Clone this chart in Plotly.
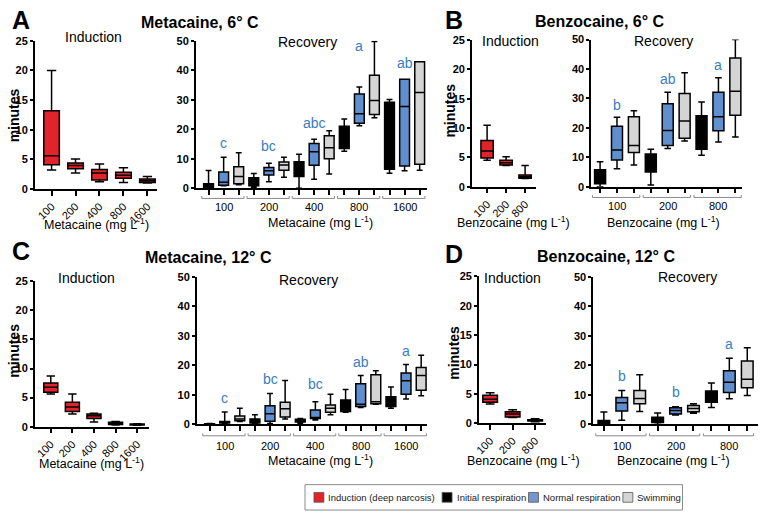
import plotly.graph_objects as go

# ---------------- DATA ----------------
# each box: (lower whisker, Q1, median, Q3, upper whisker) in minutes
conc_meta = ["100", "200", "400", "800", "1600"]
conc_benz = ["100", "200", "800"]

# Panel A: Metacaine, 6 C
A_ind = [(3.2, 4.1, 5.6, 13.2, 20.0), (2.7, 3.4, 3.95, 4.4, 5.05), (1.2, 1.5, 2.7, 3.3, 4.2),
         (1.1, 1.8, 2.3, 2.8, 3.6), (1.0, 1.1, 1.4, 1.7, 2.1)]
A_ind_letters = ["a", "ab", "bc", "c", "c"]
A_ind_letter_y = [20.8, 6.0, 5.2, 5.0, 3.2]
A_rec_init = [(0, 0, 0.8, 1.5, 6.0), (0.3, 0.8, 2.0, 3.5, 5.0), (0, 4.0, 5.0, 9.0, 11.5),
              (12.5, 13.5, 16.0, 21.0, 23.5), (5.1, 6.4, 20.0, 29.2, 30.1)]
A_rec_norm = [(0.8, 1.0, 2.0, 5.5, 10.5), (2.2, 4.5, 5.9, 7.0, 8.5), (3.0, 7.8, 12.4, 15.2, 16.6),
              (21.2, 22.0, 25.3, 32.0, 34.3), (5.9, 7.5, 27.7, 37.0, 37.0)]
A_rec_swim = [(1.2, 1.5, 4.0, 7.3, 12.0), (3.7, 6.1, 7.9, 8.9, 10.5), (4.8, 10.0, 13.7, 17.8, 19.5),
              (23.9, 25.0, 29.8, 38.3, 49.8), (6.1, 8.1, 32.5, 42.9, 42.9)]
A_rec_letters = ["c", "bc", "abc", "a", "ab"]
A_rec_letter_y = [12.0, 10.9, 18.7, 45.0, 39.0]

# Panel B: Benzocaine, 6 C
B_ind = [(4.5, 4.9, 6.1, 7.9, 10.5), (3.6, 3.7, 4.1, 4.5, 5.1), (1.4, 1.45, 1.7, 2.0, 3.6)]
B_ind_letters = ["a", "b", "c"]
B_ind_letter_y = [11.1, 6.3, 4.5]
B_rec_init = [(0, 1.0, 2.0, 5.8, 8.5), (0.6, 5.0, 8.0, 11.1, 12.7), (10.7, 12.7, 18.0, 24.1, 28.8)]
B_rec_norm = [(6.1, 9.1, 12.5, 20.5, 23.6), (13.0, 14.0, 19.1, 28.2, 32.1), (15.2, 19.0, 23.8, 32.1, 37.0)]
B_rec_swim = [(7.4, 11.6, 14.0, 23.8, 25.8), (15.5, 16.5, 22.3, 31.7, 38.7), (16.9, 24.3, 32.4, 43.7, 50.0)]
B_rec_letters = ["b", "ab", "a"]
B_rec_letter_y = [24.3, 33.2, 38.0]

# Panel C: Metacaine, 12 C
C_ind = [(5.6, 5.9, 6.8, 7.5, 8.7), (2.2, 2.6, 3.4, 4.2, 5.6), (0.8, 1.4, 1.9, 2.2, 2.3),
         (0.3, 0.4, 0.6, 0.75, 0.9), (0.25, 0.3, 0.4, 0.45, 0.5)]
C_ind_letters = ["a", "ab", "bc", "cd", "d"]
C_ind_letter_y = [9.9, 6.8, 3.9, 2.0, 2.0]
C_rec_init = [(0, 0, 0.1, 0.2, 0.3), (0, 0.5, 1.0, 1.8, 3.3), (0.3, 0.8, 1.0, 1.7, 2.0),
              (4.1, 4.4, 6.0, 8.3, 11.8), (5.5, 6.1, 8.0, 9.4, 12.7)]
C_rec_norm = [(0.2, 0.5, 0.7, 1.0, 4.2), (0.3, 1.1, 3.6, 6.3, 10.5), (1.5, 2.0, 2.2, 4.9, 7.7),
              (5.7, 6.1, 6.8, 13.8, 16.6), (8.6, 10.2, 14.8, 17.4, 20.3)]
C_rec_swim = [(1.0, 1.2, 1.8, 2.8, 5.5), (1.8, 2.5, 5.3, 7.5, 14.9), (3.3, 4.1, 5.5, 6.6, 10.2),
              (6.8, 7.0, 7.7, 16.8, 18.2), (9.7, 11.6, 16.6, 19.3, 23.4)]
C_rec_letters = ["c", "bc", "bc", "ab", "a"]
C_rec_letter_y = [5.5, 12.1, 10.3, 17.7, 21.5]

# Panel D: Benzocaine, 12 C
D_ind = [(3.3, 3.6, 4.1, 4.8, 5.2), (1.0, 1.1, 1.6, 2.0, 2.3), (0.3, 0.4, 0.5, 0.6, 0.8)]
D_ind_letters = ["a", "b", "c"]
D_ind_letter_y = [5.9, 3.4, 1.7]
D_rec_init = [(0, 0.2, 0.6, 1.3, 4.2), (0, 0.6, 1.5, 2.4, 3.9), (5.7, 7.5, 9.5, 11.3, 14.0)]
D_rec_norm = [(1.4, 4.5, 7.3, 9.1, 11.5), (3.2, 3.5, 4.7, 5.6, 6.0), (8.7, 10.8, 14.3, 18.2, 22.4)]
D_rec_swim = [(4.4, 7.0, 8.8, 11.5, 16.8), (3.8, 4.3, 5.4, 6.4, 7.0), (9.8, 12.4, 15.3, 21.5, 26.0)]
D_rec_letters = ["b", "b", "a"]
D_rec_letter_y = [13.0, 7.7, 24.0]

ind_ticks = [0, 5, 10, 15, 20, 25]
rec_ticks = [0, 10, 20, 30, 40, 50]
legend_labels = ["Induction (deep narcosis)", "Initial respiration", "Normal respiration", "Swimming"]

# ---------------- STYLE / LAYOUT ----------------
FONT = "Liberation Sans, Arial, sans-serif"
W, H = 760, 518
RED, BLACK, BLUE, GREY = "#e2232a", "#000000", "#5f8fcf", "#d4d4d4"
RED_TXT, BLUE_TXT = "#e0262e", "#3a7cc2"


def px(x):
    return x / W


def py(y):
    return 1 - y / H


fig = go.Figure()
annotations = []
shapes = []
layout_axes = {}


def sfx_of(ax):
    return "" if ax == 1 else str(ax)


def box_trace(x, tups, color, ax, lw=1.5):
    s = sfx_of(ax)
    return go.Box(
        x=x,
        lowerfence=[t[0] for t in tups], q1=[t[1] for t in tups], median=[t[2] for t in tups],
        q3=[t[3] for t in tups], upperfence=[t[4] for t in tups],
        fillcolor=color, line=dict(color="black", width=lw), width=0.65, whiskerwidth=0.6,
        boxpoints=False, showlegend=False, hoverinfo="skip", xaxis="x" + s, yaxis="y" + s)


def axis_pair(ax, xdom, ydom, xr, ymax, yticks, xtype):
    s = sfx_of(ax)
    common = dict(showline=True, linecolor="black", linewidth=1.5, ticks="outside",
                  tickwidth=1.5, tickcolor="black", showgrid=False, zeroline=False)
    layout_axes["xaxis" + s] = dict(domain=[px(xdom[0]), px(xdom[1])], range=list(xr),
                                    anchor="y" + s, ticklen=5, **common)
    layout_axes["yaxis" + s] = dict(domain=[py(ydom[0]), py(ydom[1])], range=[0, ymax],
                                    anchor="x" + s, tickvals=yticks, ticklen=3,
                                    tickfont=dict(family=FONT, size=11, color="black", weight="bold"),
                                    **common)
    if xtype == "ind":
        layout_axes["xaxis" + s].update(type="category", tickangle=-45,
                                        tickfont=dict(family=FONT, size=11, color="black"))


def text(x, y, s, size, bold=False, color="black", xref="paper", yref="paper",
         xanchor="center", yanchor="middle", angle=0):
    annotations.append(dict(x=x, y=y, xref=xref, yref=yref, text=s, showarrow=False,
                            xanchor=xanchor, yanchor=yanchor, textangle=angle,
                            font=dict(family=FONT, size=size, color=color,
                                      weight="bold" if bold else "normal")))


def induction(ax, conc, data, letters, ly, xdom, ydom, xr, title, title_xy, sub_xy, ytitle_xy):
    axis_pair(ax, xdom, ydom, xr, 25, ind_ticks, "ind")
    fig.add_trace(box_trace(conc, data, RED, ax))
    s = sfx_of(ax)
    for c, l, yv in zip(conc, letters, ly):
        text(c, yv, l, 14, color=RED_TXT, xref="x" + s, yref="y" + s, yanchor="bottom")
    text(px(sub_xy[0]), py(sub_xy[1]), "Induction", 14)
    text(px(title_xy[0]), py(title_xy[1]), title, 12.5)
    text(px(ytitle_xy[0]), py(ytitle_xy[1]), "minutes", 14, bold=True, angle=-90)


def recovery(ax, conc, init, norm, swim, letters, ly, xdom, ydom, xr, title, title_xy, sub_xy,
             bracket_y, label_y):
    axis_pair(ax, xdom, ydom, xr, 50, rec_ticks, "rec")
    s = sfx_of(ax)
    n = len(conc)
    pos = [[g * 3 + k for g in range(n)] for k in range(3)]
    layout_axes["xaxis" + s].update(tickvals=sorted(p for row in pos for p in row),
                                    showticklabels=False)
    fig.add_trace(box_trace(pos[0], init, BLACK, ax))
    fig.add_trace(box_trace(pos[1], norm, BLUE, ax))
    fig.add_trace(box_trace(pos[2], swim, GREY, ax))
    for g in range(n):
        x0, x1 = g * 3 - 0.45, g * 3 + 2.35
        yl, yt = py(bracket_y), py(bracket_y - 2.5)
        shapes.append(dict(type="path", xref="x" + s, yref="paper",
                           path=f"M {x0},{yt} L {x0},{yl} L {x1},{yl} L {x1},{yt}",
                           line=dict(color="#8a8a8a", width=1)))
        text(g * 3 + 1, py(label_y), conc[g], 11, xref="x" + s)
        text(g * 3 + 1, ly[g], letters[g], 14, color=BLUE_TXT, xref="x" + s, yref="y" + s,
             yanchor="bottom")
    text(px(sub_xy[0]), py(sub_xy[1]), "Recovery", 14)
    text(px(title_xy[0]), py(title_xy[1]), title, 12.5)


meta_t = "Metacaine (mg L<sup>-1</sup>)"
benz_t = "Benzocaine (mg L<sup>-1</sup>)"

# A
induction(1, conc_meta, A_ind, A_ind_letters, A_ind_letter_y, (30, 153), (187.3, 35.7), (-0.7, 4.4),
          meta_t, (92, 223), (89, 32), (9, 112))
recovery(2, conc_meta, A_rec_init, A_rec_norm, A_rec_swim, A_rec_letters, A_rec_letter_y,
         (192, 425), (186.5, 35.7), (-0.85, 14.5), meta_t, (318, 221), (304, 37), 197, 206)
# B
induction(3, conc_benz, B_ind, B_ind_letters, B_ind_letter_y, (470, 535), (185, 35), (-0.8, 2.6),
          benz_t, (512, 221), (509, 36), (447, 107))
recovery(4, conc_benz, B_rec_init, B_rec_norm, B_rec_swim, B_rec_letters, B_rec_letter_y,
         (590, 742), (185, 34.3), (-0.53, 8.4), benz_t, (663, 221), (663, 36), 196, 205)
# C
induction(5, conc_meta, C_ind, C_ind_letters, C_ind_letter_y, (30, 145), (430.7, 281.7), (-0.74, 4.55),
          meta_t, (87, 468), (82, 278), (9, 353))
recovery(6, conc_meta, C_rec_init, C_rec_norm, C_rec_swim, C_rec_letters, C_rec_letter_y,
         (193, 425), (428.3, 277.3), (-0.85, 14.4), meta_t, (318, 465), (306, 280), 440, 450)
# D
induction(7, conc_benz, D_ind, D_ind_letters, D_ind_letter_y, (477, 545), (427.3, 276.7), (-0.5, 2.5),
          benz_t, (522, 465), (511, 278), (452, 355))
recovery(8, conc_benz, D_rec_init, D_rec_norm, D_rec_swim, D_rec_letters, D_rec_letter_y,
         (592, 758), (428.3, 277.3), (-0.6, 8.6), benz_t, (673, 465), (687, 277), 440, 450)

# panel titles and letters
text(px(196), py(17), "Metacaine, 6° C", 16, bold=True)
text(px(599), py(16), "Benzocaine, 6° C", 16, bold=True)
text(px(205), py(257), "Metacaine, 12° C", 16, bold=True)
text(px(605), py(256), "Benzocaine, 12° C", 16, bold=True)
for letter, (lx, ly_) in zip("ABCD", [(16, 14), (452, 14), (16, 251), (452, 254)]):
    text(px(lx), py(ly_), letter, 25, bold=True)

# legend
shapes.append(dict(type="rect", xref="paper", yref="paper", x0=px(302), x1=px(682), y0=py(516), y1=py(490),
                   line=dict(color="#8c8c8c", width=1), fillcolor="white"))
for lab, col, sx in zip(legend_labels, [RED, BLACK, "#7396d2", GREY], [311, 440, 527, 622]):
    shapes.append(dict(type="rect", xref="paper", yref="paper", x0=px(sx), x1=px(sx + 10),
                       y0=py(508), y1=py(498), fillcolor=col, line=dict(color="#555", width=0.8)))
    text(px(sx + 12.5), py(503), lab, 9.5, color="#222", xanchor="left")

fig.update_layout(width=W, height=H, margin=dict(l=0, r=0, t=0, b=0), paper_bgcolor="white",
                  plot_bgcolor="white", showlegend=False, boxmode="overlay",
                  annotations=annotations, shapes=shapes, **layout_axes)
fig.write_html("out.html", config={"displayModeBar": False},
               post_script="document.body.style.margin='0';document.body.style.padding='0';"
                           "document.body.style.overflow='hidden';")
